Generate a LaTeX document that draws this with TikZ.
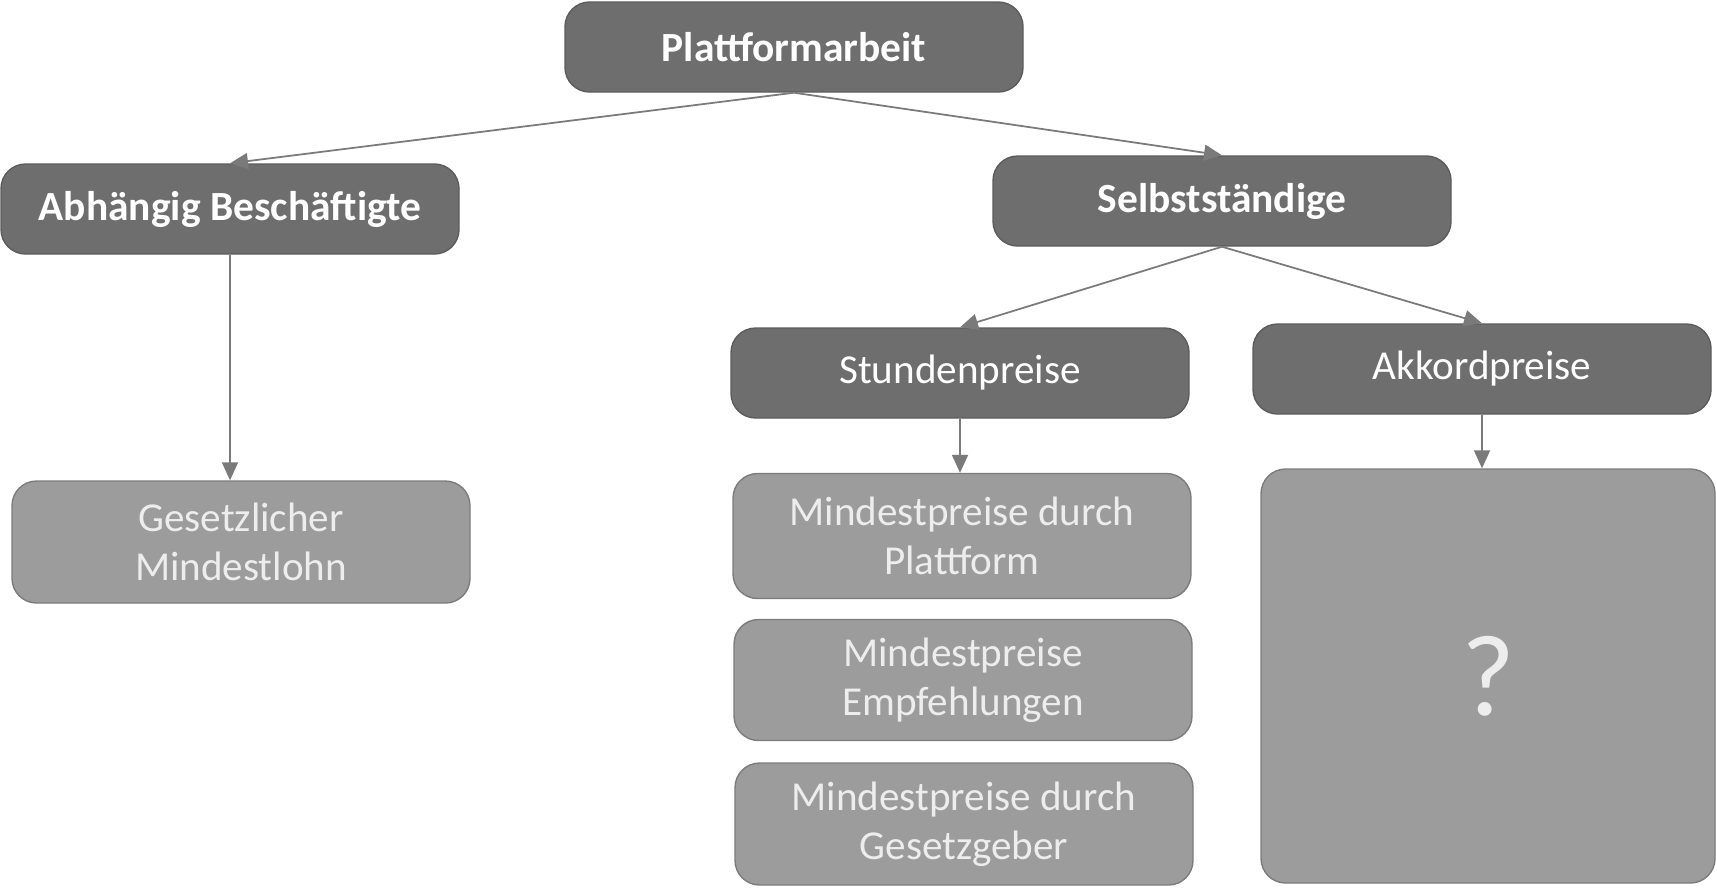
\documentclass[tikz,border=0pt]{standalone}
\usepackage{fontspec}
\setmainfont{Carlito}
\usepackage{xcolor}
\usetikzlibrary{arrows.meta}

\definecolor{darkbox}{HTML}{6E6E6E}
\definecolor{darkline}{HTML}{5C5C5C}
\definecolor{lightbox}{HTML}{9C9C9C}
\definecolor{lightline}{HTML}{7C7C7C}
\definecolor{linkgray}{HTML}{7A7A7A}

\begin{document}
\begin{tikzpicture}[
  x=0.1mm, y=-0.1mm,
  headbox/.style={
    draw=darkline,
    fill=darkbox,
    rounded corners=7pt,
    align=center,
    text=white,
    minimum width=4.58cm,
    minimum height=0.9cm,
    inner sep=2pt,
    font=\fontsize{11.7}{14}\selectfont
  },
  boldhead/.style={headbox, font=\bfseries\fontsize{11.8}{14}\selectfont},
  leafbox/.style={
    draw=lightline,
    fill=lightbox,
    rounded corners=7pt,
    align=center,
    text=white!93!black,
    minimum width=4.58cm,
    minimum height=1.22cm,
    inner sep=2pt,
    font=\fontsize{11.7}{13.8}\selectfont
  },
  flow/.style={-{Triangle[length=1.8mm,width=1.6mm]}, draw=linkgray, line width=0.5pt}
]
\useasboundingbox (0,0) rectangle (1717,887);

\node[boldhead] (plat) at (794,47) {Plattformarbeit};
\node[boldhead] (abh) at (230,209) {Abhängig Beschäftigte};
\node[boldhead] (selb) at (1222,201) {Selbstständige};
\node[headbox] (stund) at (960,373) {Stundenpreise};
\node[headbox] (akk) at (1482,369) {Akkordpreise};

\node[leafbox] (mlohn) at (241,542) {Gesetzlicher\\Mindestlohn};
\node[leafbox, minimum height=1.25cm] (mplatt) at (962,536) {Mindestpreise durch\\Plattform};
\node[leafbox, minimum height=1.21cm] (mempf) at (963,680) {Mindestpreise\\Empfehlungen};
\node[leafbox] (mgesetz) at (964,824) {Mindestpreise durch\\Gesetzgeber};
\node[leafbox, minimum width=4.54cm, minimum height=4.14cm, font=\fontsize{33}{33}\selectfont] (offen) at (1488,676) {?};

\draw[flow] (plat.south) -- (abh.north);
\draw[flow] (plat.south) -- (selb.north);
\draw[flow] (abh.south) -- (abh.south |- mlohn.north);
\draw[flow] (selb.south) -- (stund.north);
\draw[flow] (selb.south) -- (akk.north);
\draw[flow] (stund.south) -- (stund.south |- mplatt.north);
\draw[flow] (akk.south) -- (akk.south |- offen.north);
\end{tikzpicture}
\end{document}
